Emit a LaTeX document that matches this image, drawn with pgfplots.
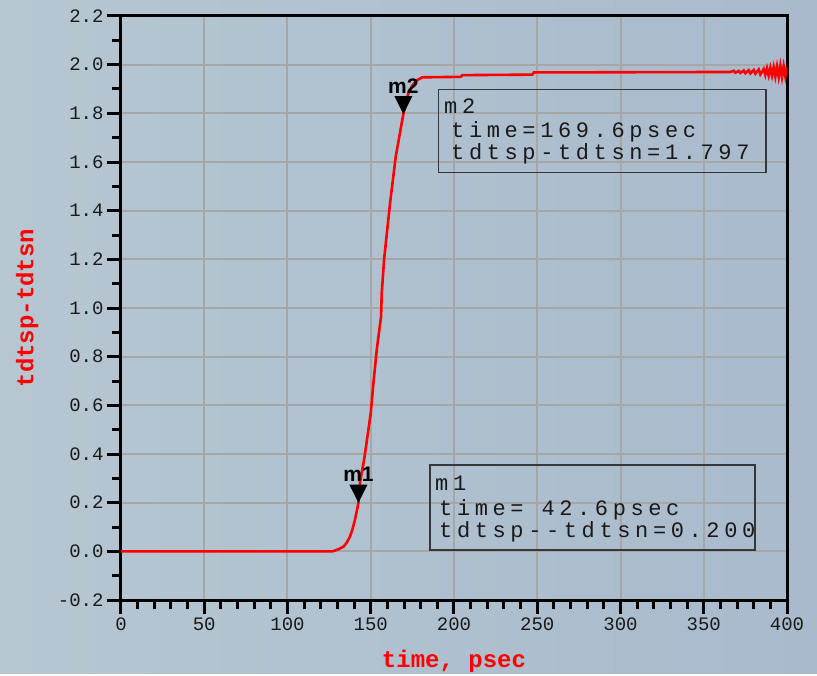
\documentclass[border=0pt]{standalone}
\usepackage{fontspec}
\usepackage{pgfplots}
\pgfplotsset{compat=1.18}

\newfontfamily\tickfont{Liberation Mono}
\newfontfamily\boxfont[LetterSpace=21]{Liberation Mono}
\newfontfamily\markfont{Liberation Sans}

\definecolor{bgA}{RGB}{182,199,210}
\definecolor{bgB}{RGB}{168,186,204}
\definecolor{gridc}{RGB}{166,166,166}
\definecolor{boxc}{RGB}{55,55,55}
\definecolor{tickc}{RGB}{25,25,25}

% downward marker triangle with its tip on the data point
\pgfdeclareplotmark{downtri}{%
  \pgfpathmoveto{\pgfpointorigin}%
  \pgfpathlineto{\pgfpoint{-9pt}{18pt}}%
  \pgfpathlineto{\pgfpoint{9pt}{18pt}}%
  \pgfpathclose\pgfusepathqfill}

\begin{document}
\begin{tikzpicture}
% page background
\begin{scope}[shift={(-121pt,600pt)},x=1pt,y=-1pt]
  \shade[left color=bgA,right color=bgB] (0,0) rectangle (817,673);
  \path[use as bounding box] (0,0) rectangle (817,673);
\end{scope}

\begin{axis}[
  at={(0,0)}, anchor=south west,
  scale only axis, width=666pt, height=584pt,
  xmin=0, xmax=400, ymin=-0.2, ymax=2.2,
  xtick={0,50,100,150,200,250,300,350,400},
  xticklabels={0,50,100,150,200,250,300,350,400},
  ytick={-0.2,0,0.2,0.4,0.6,0.8,1.0,1.2,1.4,1.6,1.8,2.0,2.2},
  yticklabels={-0.2,0.0,0.2,0.4,0.6,0.8,1.0,1.2,1.4,1.6,1.8,2.0,2.2},
  minor x tick num=4, minor y tick num=1,
  tick pos=left,
  tick align=outside, major tick length=14pt, minor tick length=9pt,
  tick style={line width=3pt,black},
  axis line style={line width=3pt,black},
  grid=major, major grid style={line width=2pt,gridc},
  ticklabel style={font=\tickfont\fontsize{19}{19}\selectfont, text=tickc},
  xlabel={time, psec}, ylabel={tdtsp-tdtsn},
  label style={font=\tickfont\bfseries\fontsize{24}{24}\selectfont, text=red},
  xlabel style={at={(axis description cs:0.5,-0.1045)}, anchor=center},
  ylabel style={at={(axis description cs:-0.141,0.5)}, anchor=center},
]
% differential TDR step response
\addplot[red, line width=2.6pt] coordinates {
  (0,0) (127,0) (128.5,0.003) (131,0.010) (133.6,0.019) (135.5,0.035)
  (137.5,0.060) (139,0.090) (140.5,0.129) (141.6,0.165) (142.6,0.200)
  (143.6,0.286) (146,0.376) (148,0.471) (150,0.568) (151.6,0.691)
  (153.6,0.828) (156.2,0.965) (156.6,1.061) (158,1.198) (160,1.328)
  (161.6,1.431) (163.2,1.520) (165,1.622) (167,1.698) (168.6,1.760)
  (169.6,1.797) (171,1.840) (172.5,1.880) (175,1.915) (178,1.937)
  (181,1.948) (204,1.950) (205,1.957) (247,1.959) (248,1.968)
  (366,1.970) (368,1.975) (369,1.967) (371,1.974) (372,1.966)
  (374,1.976) (375,1.965) (377,1.977) (378,1.964) (380,1.978)
  (381,1.963) (383,1.980) (384,1.960) (386,1.982) (387,1.958)
  (388,1.985) (389,1.956) (390,1.987) (391,1.955) (392,1.990)
  (393,1.952) (394,1.992) (395,1.950) (396,1.995) (397,1.950)
  (398,1.993) (399,1.952) (400,1.990)
};
% markers m1 and m2
\addplot[only marks, mark=downtri, black] coordinates {(142.6,0.200) (169.6,1.797)};
\node[anchor=base, inner sep=0pt, yshift=21pt,
  font=\markfont\bfseries\fontsize{21}{21}\selectfont] at (axis cs:142.6,0.200) {m1};
\node[anchor=base, inner sep=0pt, yshift=21pt,
  font=\markfont\bfseries\fontsize{21}{21}\selectfont] at (axis cs:169.6,1.797) {m2};
\end{axis}

% marker readout boxes
\begin{scope}[shift={(-121pt,600pt)},x=1pt,y=-1pt,
  every node/.style={anchor=base west, inner sep=0pt, text=tickc,
    font=\boxfont\fontsize{22}{22}\selectfont}]
  \draw[boxc, line width=1.3pt] (438.3,89.3) rectangle (766,172.7);
  \node at (444,113.3) {m2};
  \node at (451,137.3) {time=169.6psec};
  \node at (451,160) {tdtsp-tdtsn=1.797};
  \draw[boxc, line width=1.3pt] (430,465) rectangle (755,550);
  \node at (435,490) {m1};
  \node at (439,515.5) {time= 42.6psec};
  \node at (439,537) {tdtsp{-}{-}tdtsn=0.200};
\end{scope}
\end{tikzpicture}
\end{document}
